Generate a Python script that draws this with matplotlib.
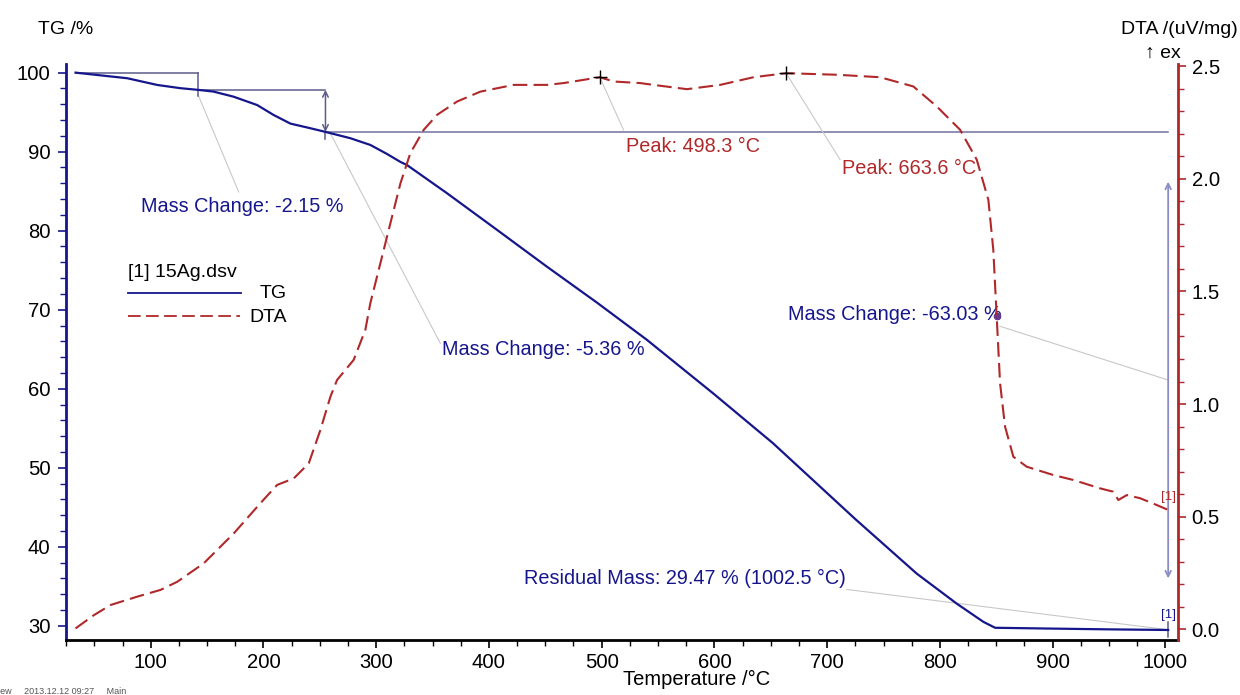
import matplotlib
matplotlib.use("Agg")
import matplotlib.pyplot as plt
from matplotlib.lines import Line2D
from matplotlib.ticker import MultipleLocator

plt.rcParams['font.family'] = ['Liberation Sans', 'DejaVu Sans']

# TG curve (temperature in C, mass in %)
tg_temp = [33.3, 79.2, 105.8, 126.4, 142, 155.7, 173.4, 194.4, 208.9, 223.9, 241.7,
           255, 277.1, 294.8, 309.7, 321.5, 327.4, 362.9, 407.2, 451.5, 495.8, 540,
           599, 652, 725, 779.5, 815, 838.6, 849, 897.7, 950, 1002.5]
tg_mass = [100, 99.29, 98.44, 98.03, 97.82, 97.6, 96.96, 95.9, 94.65, 93.55, 92.96,
           92.5, 91.7, 90.85, 89.7, 88.7, 88.3, 84.73, 80.1, 75.44, 70.9, 66.2,
           59.4, 53.1, 43.5, 36.6, 32.8, 30.5, 29.75, 29.65, 29.55, 29.47]

# DTA curve (uV/mg)
dta_temp = [33.3, 49.6, 64.4, 88, 108.7, 123.5, 147, 173.7, 197.3, 212.1, 226.9,
            240.2, 250.5, 259.4, 265.3, 280, 290.4, 294.8, 303.7, 312.6, 321.5,
            330.3, 342.1, 354, 371.7, 392.4, 421.9, 451.5, 466.2, 498.3, 510.6,
            534.2, 546, 575.6, 605.1, 634.7, 663.6, 708.6, 747, 776.5, 797.3,
            817.9, 832.7, 843, 847.4, 850.4, 853.4, 857.8, 865.2, 877, 900.6,
            918.4, 942, 953.8, 958.3, 965.8, 977.6, 992.3, 1002.5]
dta_val = [0.004, 0.063, 0.108, 0.145, 0.175, 0.211, 0.293, 0.426, 0.56, 0.641, 0.67,
           0.737, 0.885, 1.033, 1.107, 1.196, 1.33, 1.448, 1.625, 1.803, 1.98,
           2.114, 2.217, 2.284, 2.343, 2.387, 2.417, 2.417, 2.425, 2.451, 2.432,
           2.425, 2.417, 2.398, 2.417, 2.451, 2.469, 2.462, 2.451, 2.41, 2.321,
           2.218, 2.085, 1.907, 1.684, 1.388, 1.092, 0.9, 0.766, 0.722, 0.685,
           0.663, 0.626, 0.611, 0.574, 0.596, 0.582, 0.552, 0.53]

# evaluation results
step_temps = [142, 255, 1002.5]
step_mass = [100, 97.82, 92.5, 29.47]
peak_temps = [498.3, 663.6]
peak_vals = [2.451, 2.469]

BLUE = '#16168c'
RED = '#b0282a'
STEP = '#5c5c8c'
LEAD = '#c8c8c8'

fig = plt.figure(figsize=(12.4, 6.95), dpi=100)
ax = fig.add_axes([0.053, 0.0791, 0.8968, 0.8289])
ax2 = ax.twinx()

ax.set_xlim(24.6, 1011)
ax.set_ylim(28.2, 101.1)
ax2.set_ylim(-0.0475, 2.51)

# curves
ax.plot(tg_temp, tg_mass, color=BLUE, lw=1.6, zorder=5)
ax2.plot(dta_temp, dta_val, color=RED, lw=1.5, dashes=(7, 3), zorder=5)

# step evaluation lines
ax.plot([tg_temp[0], step_temps[0]], [step_mass[0], step_mass[0]], color=STEP, lw=1.1)
ax.plot([step_temps[0], step_temps[0]], [step_mass[0], 97.1], color=STEP, lw=1.1)
ax.plot([step_temps[0], step_temps[1]], [step_mass[1], step_mass[1]], color=STEP, lw=1.1)
ax.annotate('', xy=(step_temps[1], step_mass[1]), xytext=(step_temps[1], step_mass[2]),
            arrowprops=dict(arrowstyle='<->', color=STEP, lw=1.1, shrinkA=0, shrinkB=0))
ax.plot([step_temps[1], step_temps[1]], [step_mass[2], 91.6], color=STEP, lw=1.1)
ax.plot([step_temps[1], step_temps[2]], [step_mass[2], step_mass[2]], color='#7070a0', lw=1.1)
ax.annotate('', xy=(step_temps[2], 86.2), xytext=(step_temps[2], 36.0),
            arrowprops=dict(arrowstyle='<->', color='#8c8cc8', lw=1.3, shrinkA=0, shrinkB=0))
ax.plot([step_temps[2], step_temps[2]], [28.6, 30.5], color=STEP, lw=1.1)

# leader lines
ax.plot([142, 178], [97.2, 84.9], color=LEAD, lw=0.8, zorder=1)
ax.plot([259.4, 356.9], [92.3, 65.75], color=LEAD, lw=0.8, zorder=1)
ax2.plot([peak_temps[0], 519.4], [peak_vals[0], 2.217], color=LEAD, lw=0.8, zorder=1)
ax2.plot([peak_temps[1], 711.5], [peak_vals[1], 2.085], color=LEAD, lw=0.8, zorder=1)
ax.plot([853.4, 1002.5], [67.9, 61.1], color=LEAD, lw=0.8, zorder=1)
ax.plot([717.5, 1002.5], [34.6, 29.5], color=LEAD, lw=0.8, zorder=1)

# peak markers
ax2.plot(peak_temps, peak_vals, '+', color='black', ms=10, mew=1.0, zorder=6)
ax.plot([850.4], [69.2], 'o', color='#6a3a8a', ms=4.5, zorder=6)

# annotation texts
fs = 14.3
ax.text(91, 83.1, 'Mass Change: -2.15 %', color=BLUE, fontsize=fs, va='center')
ax.text(358.4, 65.0, 'Mass Change: -5.36 %', color=BLUE, fontsize=fs, va='center')
ax.text(665.7, 69.33, 'Mass Change: -63.03 %', color=BLUE, fontsize=fs, va='center')
ax.text(431, 36.0, 'Residual Mass: 29.47 % (1002.5 °C)', color=BLUE, fontsize=fs, va='center')
ax2.text(521.8, 2.143, 'Peak: 498.3 °C', color=RED, fontsize=fs, va='center')
ax2.text(713, 2.047, 'Peak: 663.6 °C', color=RED, fontsize=fs, va='center')
ax.text(step_temps[2], 31.4, '[1]', color=BLUE, fontsize=9.5, ha='center', va='center')
ax2.text(step_temps[2], 0.589, '[1]', color=RED, fontsize=9.5, ha='center', va='center')

# spines and ticks
for s in ['top', 'right']:
    ax.spines[s].set_visible(False)
for s in ['top', 'left', 'bottom']:
    ax2.spines[s].set_visible(False)
ax.spines['left'].set_color(BLUE)
ax.spines['left'].set_linewidth(2)
ax.spines['bottom'].set_linewidth(2)
ax2.spines['right'].set_color(RED)
ax2.spines['right'].set_linewidth(2)

ax.xaxis.set_major_locator(MultipleLocator(100))
ax.xaxis.set_minor_locator(MultipleLocator(25))
ax.yaxis.set_major_locator(MultipleLocator(10))
ax.yaxis.set_minor_locator(MultipleLocator(2))
ax2.yaxis.set_major_locator(MultipleLocator(0.5))
ax2.yaxis.set_minor_locator(MultipleLocator(0.1))
ax2.yaxis.set_major_formatter(plt.FuncFormatter(lambda v, p: f'{v:.1f}'))

tls = 14.6
ax.tick_params(axis='x', which='major', length=6, width=1.2, labelsize=tls, pad=3)
ax.tick_params(axis='x', which='minor', length=4, width=1)
ax.tick_params(axis='y', which='major', length=6, width=1.2, color=BLUE, labelsize=tls, pad=5)
ax.tick_params(axis='y', which='minor', length=4, width=1, color=BLUE)
ax2.tick_params(axis='y', which='major', length=6, width=1.2, color=RED, labelsize=tls, pad=4)
ax2.tick_params(axis='y', which='minor', length=4, width=1, color=RED)

# axis titles
fig.text(38 / 1240, 1 - 30 / 695, 'TG /%', fontsize=14, ha='left', va='center')
fig.text(1238 / 1240, 1 - 30 / 695, 'DTA /(uV/mg)', fontsize=14, ha='right', va='center')
fig.text(1181 / 1240, 1 - 53 / 695, '↑ ex', fontsize=14, ha='right', va='center')
fig.text(697 / 1240, 1 - 679 / 695, 'Temperature /°C', fontsize=14.5, ha='center', va='center')
fig.text(-2 / 1240, 1 - 692 / 695, 'iew     2013.12.12 09:27     Main', fontsize=6.5,
         color='#555555', ha='left', va='center')

# legend box drawn by hand
lfs = 14
fig.text(128 / 1240, 1 - 273 / 695, '[1] 15Ag.dsv', fontsize=lfs, ha='left', va='center')
fig.add_artist(Line2D([128 / 1240, 241 / 1240], [1 - 293 / 695] * 2, color=BLUE, lw=1.3,
                      transform=fig.transFigure))
fig.add_artist(Line2D([128 / 1240, 240 / 1240], [1 - 316 / 695] * 2, color=RED, lw=1.3,
                      dashes=(7, 3), transform=fig.transFigure))
fig.text(287 / 1240, 1 - 294 / 695, 'TG', fontsize=lfs, ha='right', va='center')
fig.text(287 / 1240, 1 - 317 / 695, 'DTA', fontsize=lfs, ha='right', va='center')

fig.savefig('out.png', dpi=100)
